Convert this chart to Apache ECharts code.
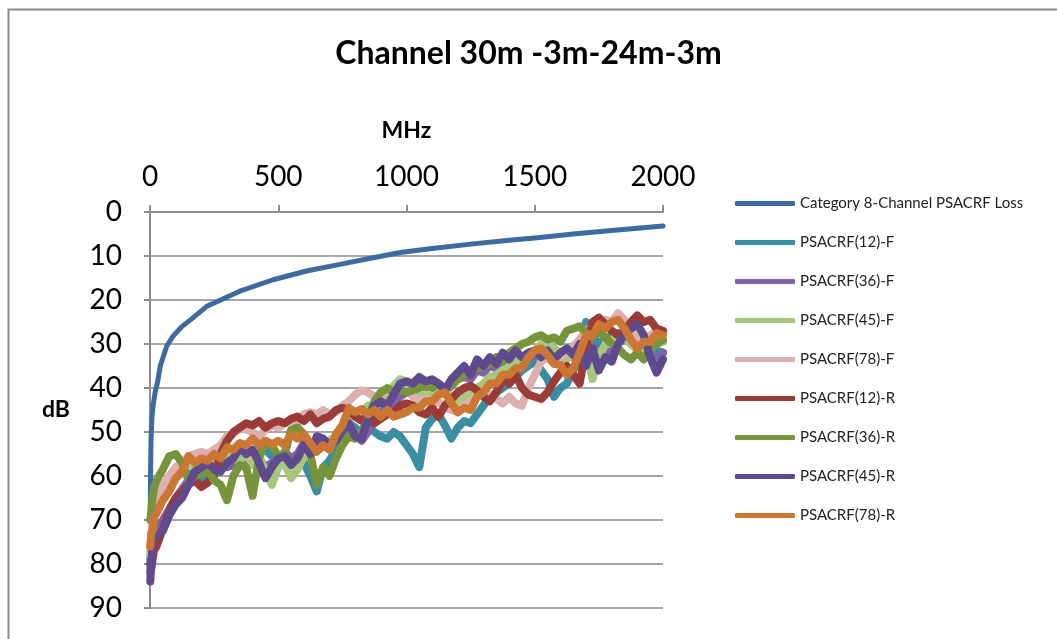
<!DOCTYPE html>
<html>
<head>
<meta charset="utf-8">
<script src="https://cdn.jsdelivr.net/npm/echarts@6/dist/echarts.min.js"></script>
<style>
html,body{margin:0;padding:0;background:#fff;}
#chart{width:1057px;height:639px;}
</style>
</head>
<body>
<div id="chart"></div>
<script>
// ---- data ----
const titleText = 'Channel 30m -3m-24m-3m';
const xTicks = [0, 500, 1000, 1500, 2000];
const yTicks = [0, 10, 20, 30, 40, 50, 60, 70, 80, 90];

const seriesNames = [
  'Category 8-Channel PSACRF Loss',
  'PSACRF(12)-F', 'PSACRF(36)-F', 'PSACRF(45)-F', 'PSACRF(78)-F',
  'PSACRF(12)-R', 'PSACRF(36)-R', 'PSACRF(45)-R', 'PSACRF(78)-R'
];

// limit curve (MHz, dB)
const catFreq = [1, 2, 4, 7, 12, 20, 30, 40, 65, 90, 125, 160, 220, 290, 350, 480, 610, 740, 870, 975, 1100, 1250, 1400, 1500, 1650, 1800, 2000];
const catLoss = [68, 60, 52, 47, 44, 41, 38.5, 35, 30.5, 28.2, 26, 24.4, 21.5, 19.6, 18, 15.4, 13.4, 11.9, 10.4, 9.2, 8.3, 7.3, 6.4, 5.9, 5.0, 4.2, 3.2];

// measured frequency points (MHz)
const freq = [1, 5, 10, 15,
  25, 50, 75, 100, 125, 150, 175, 200, 225, 250,
  275, 300, 325, 350, 375, 400, 425, 450, 475, 500,
  525, 550, 575, 600, 625, 650, 675, 700, 725, 750,
  775, 800, 825, 850, 875, 900, 925, 950, 975, 1000,
  1025, 1050, 1075, 1100, 1125, 1150, 1175, 1200, 1225, 1250,
  1275, 1300, 1325, 1350, 1375, 1400, 1425, 1450, 1475, 1500,
  1525, 1550, 1575, 1600, 1625, 1650, 1675, 1700, 1725, 1750,
  1775, 1800, 1825, 1850, 1875, 1900, 1925, 1950, 1975, 2000];

const psacrf12F = [79, 76, 72, 69,
  67.5, 64.5, 62, 60.5, 59, 59.5, 60, 61.5, 60, 59,
  58, 57, 56, 55, 56, 54.5, 55, 54, 55.5, 56,
  57, 56, 58, 57, 60, 63.5, 58, 56.5, 54, 51,
  48, 49, 50.5, 48.5, 50, 51, 51.5, 50, 51, 53,
  55, 58, 49, 47, 46, 48.5, 51.5, 49, 47.5, 48,
  46, 44, 42, 41, 40, 39, 37.5, 36, 35, 34,
  36, 38, 42, 40, 39, 36, 33, 25, 28, 30,
  29, 28, 27.5, 28.5, 30, 31, 32.5, 33, 31.5, 32];

const psacrf36F = [82, 78, 74, 72,
  72, 70, 67.5, 65, 63, 61, 59.5, 58.5, 59, 57.5,
  57, 58, 57.5, 55, 56.5, 55, 56, 58, 57, 56.5,
  54.5, 56, 55, 52.5, 54, 52, 53, 52, 51.5, 50.5,
  49.5, 50.5, 52, 50, 47, 45, 45.5, 43.5, 42, 41,
  40.5, 39.5, 40, 39, 40, 41, 39.5, 38, 37.5, 38,
  36, 36.5, 35, 35.5, 34, 34.5, 33, 34, 33.5, 32.5,
  32, 33, 34, 33.5, 32.5, 33, 31, 33.5, 30.5, 33,
  31.5, 32, 29.5, 29, 28, 28.5, 30, 32, 34, 32];

const psacrf45F = [78, 75, 71, 68,
  66.5, 63.5, 61, 59, 58, 57.5, 58, 57, 57.5, 56,
  56.5, 55, 56, 56.5, 55, 57.5, 55.5, 59, 62, 58,
  57, 60.5, 58.5, 55.5, 55, 54, 53.5, 52, 51, 49,
  47, 46, 45.5, 44, 44.5, 43, 41.5, 39.5, 38, 38.5,
  41, 42, 41.5, 42, 40.5, 41, 42, 43.5, 42, 41,
  40, 39, 37.5, 37, 36, 35, 34, 33, 32, 31.5,
  30, 29.5, 31, 32, 33.5, 32, 30.5, 31, 38, 33,
  30, 29, 28, 28.5, 30, 31.5, 32, 31, 30, 29.5];

const psacrf78F = [77, 74, 70, 67,
  65, 62, 60, 58, 57, 55.5, 55, 54.5, 55, 54,
  53, 51, 50.5, 49, 49.5, 50, 51, 49.5, 48.5, 49,
  48, 47.5, 48, 46, 45.5, 46, 45, 46, 45.5, 44,
  43, 41.5, 40.5, 41, 42, 41.5, 40.5, 41, 40, 40.5,
  42, 43, 42.5, 44, 43, 44.5, 45, 45.5, 44, 43,
  42, 40.5, 41.5, 42.5, 43.5, 42, 43.5, 44, 40, 37,
  34, 33, 34.5, 33, 32, 30.5, 29, 27, 26, 25.5,
  24.5, 25, 23, 24.5, 27, 28.5, 29, 28, 27, 27.5];

const psacrf12R = [80, 81, 79, 77,
  76, 72, 68, 65, 63.5, 62, 61, 62.5, 61.5, 60,
  55, 52, 50, 49, 48, 48.5, 47.5, 49, 48, 47.5,
  48, 47, 46.5, 47.5, 46, 48, 47, 46.5, 45, 44.5,
  45, 46.5, 47.5, 46, 48, 47, 46, 45.5, 44, 43.5,
  44, 45.5, 46, 44.5, 46.5, 44, 42.5, 41, 40, 39.5,
  40.5, 42, 43, 41, 38, 39, 37, 40, 41.5, 42,
  42.5, 41, 38.5, 36.5, 35, 37, 39, 31, 25, 24,
  25.5, 27, 28, 27, 25, 23.5, 25, 24.5, 26.5, 27];

const psacrf36R = [70, 68, 65, 63,
  61, 58.5, 55.5, 55, 57, 61, 60, 59.5, 58.5, 61,
  62, 65.5, 60, 57.5, 58, 64.5, 56, 52, 53, 55.5,
  55, 49.5, 49, 50.5, 55, 62, 58, 60, 56, 53,
  51, 51.5, 50, 47, 43, 41, 40, 41, 40.5, 41,
  40.5, 40, 39.5, 40, 39, 40, 39.5, 38, 37, 36,
  35.5, 35, 34.5, 33, 34, 32, 31, 30, 29.5, 28.5,
  28, 29, 28.5, 29.5, 27, 26.5, 26, 27.5, 28.5, 27,
  28.5, 30, 31, 32.5, 33.5, 32, 33.5, 31, 30, 29];

const psacrf45R = [84, 80, 76, 74,
  73.5, 72.5, 69, 66.5, 65, 62, 59, 58, 57, 58.5,
  59, 57, 56, 53.5, 55, 54, 57, 60.5, 58, 56,
  55.5, 57.5, 56, 53, 55, 51, 51.5, 53, 52, 49.5,
  48, 51, 51.5, 47, 44, 43, 44, 41.5, 39, 38.5,
  39, 37.5, 38.5, 38, 39, 40.5, 38, 36.5, 35, 37,
  33.5, 35, 33, 34.5, 32, 33.5, 31.5, 33, 32, 31.5,
  33, 31.5, 33.5, 32, 31, 32.5, 30, 35, 31, 36,
  33, 34, 30, 28, 26.5, 25.5, 28, 33, 36.5, 33.5];

const psacrf78R = [76, 73, 72.5, 69.5,
  68.5, 65.5, 63.5, 60.5, 59, 55.5, 57, 56, 56.5, 55,
  56, 53.5, 54, 52.5, 53, 51.5, 53, 52, 52.8, 52,
  53, 50.5, 51.5, 50.5, 52.5, 54.5, 53, 54, 50.5, 48.5,
  44.5, 45.5, 44.8, 46, 45, 46.5, 45, 46.5, 46, 45.5,
  44.5, 44.5, 43, 43, 41.5, 41, 43.5, 45.5, 44.5, 45,
  42, 41, 39, 39, 37, 37, 35.5, 35.5, 33, 31.5,
  31, 32.5, 34.5, 34.8, 37, 35.5, 32, 28, 28, 25.5,
  26.5, 25, 24.5, 26.5, 29, 31, 29.5, 29.5, 27.5, 28];

const colors = ['#3D6A9F', '#3A8EA4', '#7F63A6', '#A9C77C', '#DCB0AF', '#9A3B38', '#77943D', '#5E4A8C', '#CC7633'];

// ---- build ----
function pairs(xs, ys) { return xs.map((x, i) => [x, ys[i]]); }
const measured = [psacrf12F, psacrf36F, psacrf45F, psacrf78F, psacrf12R, psacrf36R, psacrf45R, psacrf78R];

const series = [{
  name: seriesNames[0], type: 'line', data: pairs(catFreq, catLoss),
  showSymbol: false, symbol: 'none', smooth: false,
  lineStyle: { width: 5, color: colors[0], cap: 'round', join: 'round' },
  itemStyle: { color: colors[0] }
}];
measured.forEach((arr, k) => {
  series.push({
    name: seriesNames[k + 1], type: 'line', data: pairs(freq, arr),
    showSymbol: false, symbol: 'none', smooth: false,
    lineStyle: { width: 8, color: colors[k + 1], cap: 'round', join: 'round' },
    itemStyle: { color: colors[k + 1] }
  });
});

const FONT = 'Lato, "Open Sans", sans-serif';
const chart = echarts.init(document.getElementById('chart'), null, { renderer: 'canvas' });
chart.setOption({
  animation: false,
  backgroundColor: '#fff',
  color: colors,
  title: {
    text: titleText, left: 'center', top: 33,
    textStyle: { fontFamily: FONT, fontSize: 32, fontWeight: 'bold', color: '#000' }
  },
  legend: {
    orient: 'vertical', left: 730, top: 191,
    itemWidth: 60, itemHeight: 5, itemGap: 24, icon: 'roundRect',
    data: seriesNames,
    textStyle: { fontFamily: FONT, fontSize: 15, lineHeight: 14, color: '#222' }
  },
  grid: { left: 150, top: 212, right: 394, bottom: 31, containLabel: false },
  xAxis: {
    type: 'value', position: 'top', min: xTicks[0], max: xTicks[xTicks.length - 1], interval: 500,
    name: 'MHz', nameLocation: 'middle', nameGap: 70,
    nameTextStyle: { fontFamily: FONT, fontSize: 23, fontWeight: 'bold', color: '#000' },
    axisLine: { show: true, lineStyle: { color: '#8c8c8c', width: 2 } },
    axisTick: { show: true, length: 7, lineStyle: { color: '#8c8c8c', width: 2 } },
    axisLabel: { fontFamily: FONT, fontSize: 28, color: '#000', margin: 21, formatter: v => String(v) },
    splitLine: { show: false }
  },
  yAxis: {
    type: 'value', inverse: true, min: yTicks[0], max: yTicks[yTicks.length - 1], interval: 10,
    name: 'dB', nameLocation: 'middle', nameRotate: 0, nameGap: 80,
    nameTextStyle: { fontFamily: FONT, fontSize: 23, fontWeight: 'bold', color: '#000' },
    axisLine: { show: true, lineStyle: { color: '#8c8c8c', width: 2 } },
    axisTick: { show: true, length: 6, lineStyle: { color: '#8c8c8c', width: 2 } },
    axisLabel: { fontFamily: FONT, fontSize: 28, color: '#000', margin: 28, formatter: v => String(v) },
    splitLine: { show: true, lineStyle: { color: '#a6a6a6', width: 2 } }
  },
  graphic: [{
    type: 'rect', left: 6, top: 7, silent: true, z: -1,
    shape: { width: 1100, height: 700 },
    style: { fill: 'none', stroke: '#8a8a8a', lineWidth: 2 }
  }],
  series: series
});
</script>
</body>
</html>
